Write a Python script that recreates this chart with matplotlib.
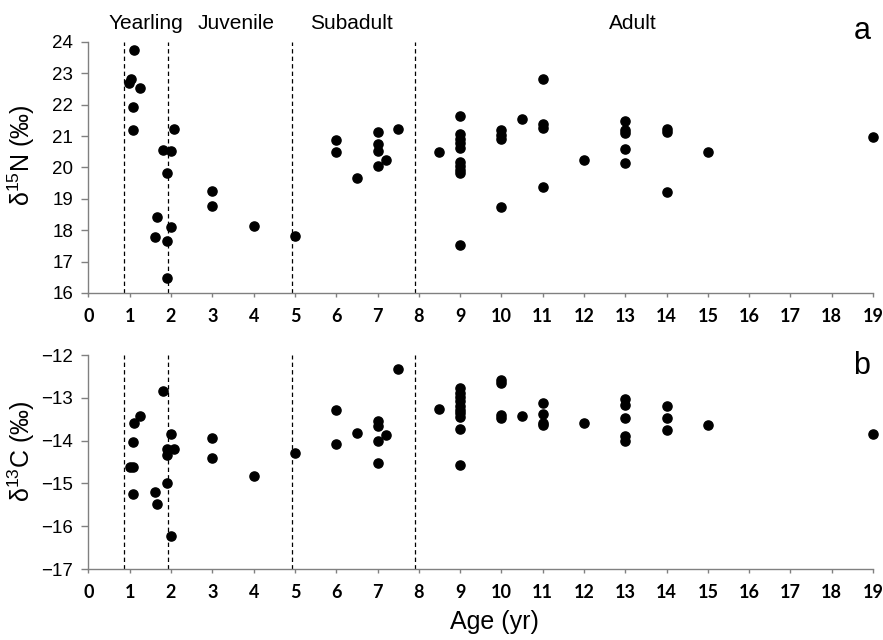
import numpy as np
import matplotlib
matplotlib.use('Agg')
import matplotlib.pyplot as plt

plt.rcParams['mathtext.fontset'] = 'custom'
plt.rcParams['mathtext.rm'] = 'Liberation Sans'
plt.rcParams['mathtext.it'] = 'Liberation Sans'

# age (yr) and d15N values, top panel
age_n = [0.98, 1.02, 1.10, 1.25, 1.09, 1.09, 2.06, 1.80, 2.00, 1.90, 1.65, 2.00, 1.60, 1.90, 1.90,
         3, 3, 4, 5,
         6, 6, 6.5, 7, 7, 7, 7, 7.2, 7.5,
         8.5, 9, 9, 9, 9, 9, 9, 9, 9, 9, 9,
         10, 10, 10, 10, 10.5, 11, 11, 11, 11, 12,
         13, 13, 13, 13, 13, 14, 14, 14, 15, 19]
d15n = [22.69, 22.83, 23.73, 22.53, 21.93, 21.21, 21.23, 20.55, 20.54, 19.84, 18.41, 18.11, 17.79, 17.65, 16.49,
        19.24, 18.78, 18.12, 17.83,
        20.89, 20.49, 19.67, 21.14, 20.76, 20.53, 20.06, 20.24, 21.24,
        20.49, 21.65, 21.07, 20.91, 20.78, 20.62, 20.19, 20.06, 19.93, 19.82, 17.52,
        21.18, 21.05, 20.92, 18.75, 21.55, 22.83, 21.39, 21.26, 19.37, 20.23,
        21.49, 21.21, 21.10, 20.59, 20.14, 21.23, 21.13, 19.21, 20.48, 20.97]

# age (yr) and d13C values, bottom panel
age_c = [1.81, 1.25, 1.10, 1.09, 2.00, 1.90, 2.06, 1.90, 1.00, 1.08, 1.09, 1.90, 1.60, 1.67, 2.00,
         3, 3, 4, 5,
         6, 6, 6.5, 7, 7, 7, 7, 7.2, 7.5,
         8.5, 9, 9, 9, 9, 9, 9, 9, 9, 9, 9,
         10, 10, 10, 10, 10.5, 11, 11, 11, 11, 12,
         13, 13, 13, 13, 13, 14, 14, 14, 15, 19]
d13c = [-12.84, -13.42, -13.58, -14.04, -13.85, -14.19, -14.19, -14.33, -14.61, -14.61, -15.25, -14.99, -15.20, -15.47, -16.24,
        -13.95, -14.40, -14.82, -14.30,
        -13.29, -14.07, -13.83, -13.54, -13.66, -14.02, -14.52, -13.87, -12.32,
        -13.26, -12.78, -12.88, -12.98, -13.08, -13.18, -13.28, -13.36, -13.44, -13.73, -14.57,
        -12.58, -12.65, -13.40, -13.47, -13.42, -13.13, -13.37, -13.58, -13.63, -13.60,
        -13.03, -13.16, -13.47, -13.89, -14.01, -13.19, -13.48, -13.75, -13.63, -13.84]

# age class boundaries and labels
bounds = [0.87, 1.92, 4.92, 7.9]
classes = ['Yearling', 'Juvenile', 'Subadult', 'Adult']
class_pos = [1.38, 3.58, 6.38, 13.19]

fig = plt.figure(figsize=(8.83, 6.4), dpi=100)
ax1 = fig.add_axes([0.1002, 0.5422, 0.8885, 0.3922])
ax2 = fig.add_axes([0.1002, 0.1109, 0.8885, 0.3344])

tickfont = {'family': 'Lato', 'weight': 'bold', 'size': 13}

for ax, x, y, lim, ticks in [(ax1, age_n, d15n, (16, 24), np.arange(16, 25)),
                             (ax2, age_c, d13c, (-17, -12), np.arange(-17, -11))]:
    ax.plot(x, y, 'o', color='black', markersize=6.6, clip_on=False, zorder=3)
    for b in bounds:
        ax.axvline(b, color='black', lw=0.9, ls=(0, (3.5, 2.5)), zorder=2)
    ax.set_xlim(0, 19)
    ax.set_ylim(*lim)
    ax.set_xticks(range(0, 20))
    ax.set_yticks(ticks)
    ax.set_xticklabels([str(i) for i in range(0, 20)], fontdict=tickfont)
    ax.set_yticklabels([str(t).replace('-', '\u2212') for t in ticks],
                       family='Liberation Sans', size=13.5)
    for s in ['top', 'right']:
        ax.spines[s].set_visible(False)
    for s in ['left', 'bottom']:
        ax.spines[s].set_color('#808080')
        ax.spines[s].set_linewidth(1.0)
    ax.tick_params(axis='y', direction='out', length=5, width=1, color='#808080', pad=6)
    ax.tick_params(axis='x', direction='out', length=3, width=1, color='#808080', pad=8)

for name, p in zip(classes, class_pos):
    ax1.text(p, 1.053, name, transform=ax1.get_xaxis_transform(), ha='center', va='baseline',
             family='Liberation Sans', size=15)

ax1.set_ylabel('δ$^{15}$N (‰)', family='Liberation Sans', size=18)
ax2.set_ylabel('δ$^{13}$C (‰)', family='Liberation Sans', size=18)
ax1.yaxis.set_label_coords(-0.066, 0.55)
ax2.yaxis.set_label_coords(-0.066, 0.55)
ax2.set_xlabel('Age (yr)', family='Liberation Sans', size=18)
ax2.xaxis.set_label_coords(0.517, -0.19)

fig.text(862 / 883, 1 - 39.3 / 640, 'a', ha='center', va='baseline', family='Liberation Sans', size=22)
fig.text(862 / 883, 1 - 374 / 640, 'b', ha='center', va='baseline', family='Liberation Sans', size=22)

fig.savefig('out.png', dpi=100)
